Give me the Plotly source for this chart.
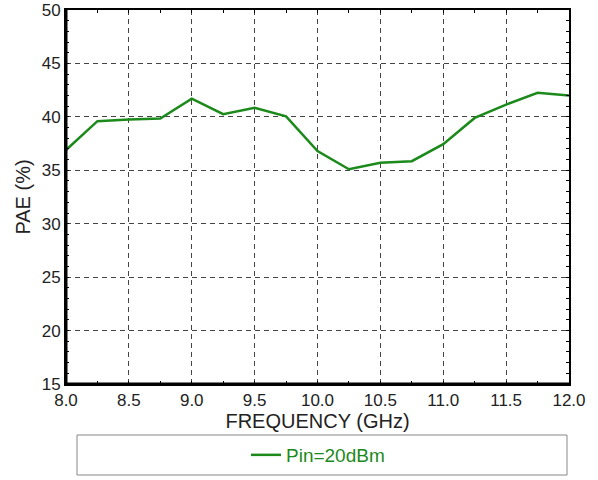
import plotly.graph_objects as go

freq = [8.0, 8.25, 8.5, 8.75, 9.0, 9.25, 9.5, 9.75, 10.0, 10.25, 10.5, 10.75, 11.0, 11.25, 11.5, 11.75, 12.0]
pae = [36.9, 39.6, 39.75, 39.85, 41.7, 40.25, 40.85, 40.05, 36.8, 35.1, 35.7, 35.85, 37.45, 39.9, 41.15, 42.25, 42.0]
series_name = "Pin=20dBm"
x_ticks = [8.0, 8.5, 9.0, 9.5, 10.0, 10.5, 11.0, 11.5, 12.0]
x_ticklabels = ["8.0", "8.5", "9.0", "9.5", "10.0", "10.5", "11.0", "11.5", "12.0"]
y_ticks = [15, 20, 25, 30, 35, 40, 45, 50]

font = "Liberation Sans, Arial, sans-serif"

fig = go.Figure()
fig.add_trace(go.Scatter(x=freq, y=pae, mode="lines", name=series_name,
                         line=dict(color="#1b8a1b", width=2.5)))

axis_common = dict(
    showline=True, linecolor="black", linewidth=2, mirror="allticks",
    ticks="inside", ticklen=3, tickcolor="black", tickwidth=1,
    showgrid=True, gridcolor="#444444", gridwidth=1, griddash="5px,4px",
    zeroline=False,
    tickfont=dict(family=font, size=17, color="#222222"),
    title_font=dict(family=font, size=20, color="#222222"),
)

fig.update_xaxes(range=[8, 12], tickvals=x_ticks, ticktext=x_ticklabels,
                 title_text="FREQUENCY (GHz)", title_standoff=5,
                 minor=dict(dtick=0.25, ticks="inside", ticklen=3, tickcolor="black", showgrid=False),
                 **axis_common)
fig.update_yaxes(range=[15, 50], tickvals=y_ticks,
                 title_text="PAE (%)", title_standoff=6,
                 minor=dict(dtick=1, ticks="inside", ticklen=3, tickcolor="black", showgrid=False),
                 **axis_common)

# thicker left/bottom frame
fig.add_shape(type="line", xref="paper", yref="paper", x0=0, x1=0, y0=0, y1=1,
              line=dict(color="black", width=3))
fig.add_shape(type="line", xref="paper", yref="paper", x0=0, x1=1, y0=0, y1=0,
              line=dict(color="black", width=3))

# legend box
fig.add_shape(type="rect", xref="paper", yref="paper",
              x0=(77 - 66) / 503, x1=(567 - 66) / 503,
              y0=-(475 - 384) / 374, y1=-(435 - 384) / 374,
              line=dict(color="#888888", width=1), fillcolor="rgba(0,0,0,0)")

fig.update_layout(
    width=598, height=480,
    margin=dict(l=66, r=29, t=10, b=96, autoexpand=False),
    paper_bgcolor="white", plot_bgcolor="white",
    showlegend=True,
    legend=dict(orientation="h", x=(318 - 66) / 503, xanchor="center",
                y=-(455 - 384) / 374, yanchor="middle",
                bgcolor="rgba(0,0,0,0)",
                font=dict(family=font, size=19, color="#1b8a1b")),
)

fig.write_html("out.html", config={"displayModeBar": False},
               post_script="document.body.style.margin='0px';document.body.style.overflow='hidden';")
